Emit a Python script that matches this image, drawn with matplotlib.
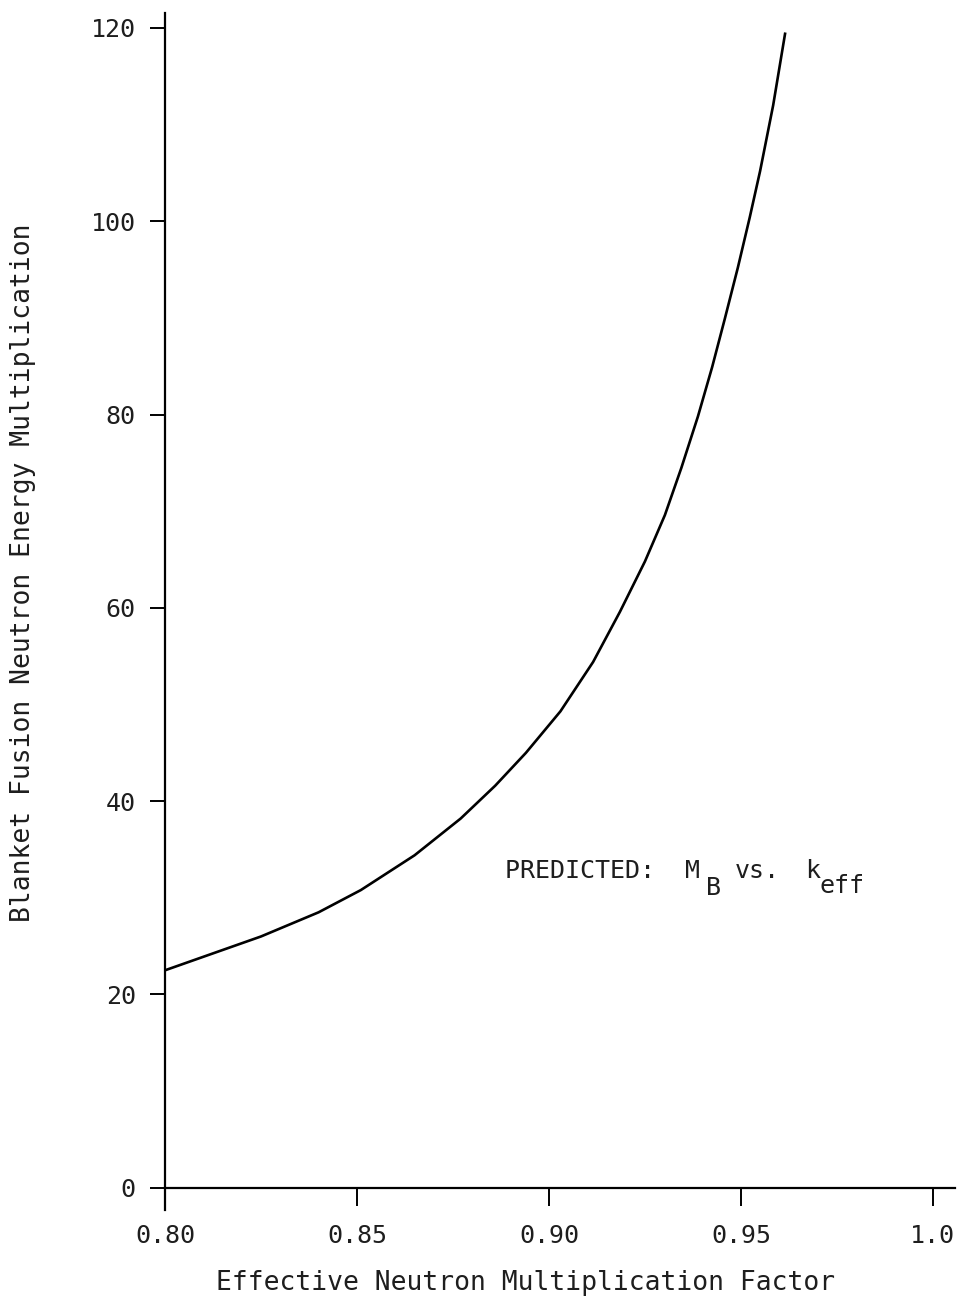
import matplotlib
matplotlib.use("Agg")
import matplotlib.pyplot as plt

# values
k_eff = [0.8000, 0.8100, 0.8250, 0.8400, 0.8510, 0.8650, 0.8770, 0.8860, 0.8940,
         0.9030, 0.9115, 0.9185, 0.9250, 0.9302, 0.9345, 0.9388, 0.9425, 0.9458,
         0.9492, 0.9523, 0.9550, 0.9584, 0.9615]
m_b = [22.5, 23.9, 26.0, 28.5, 30.8, 34.4, 38.2, 41.6, 45.0,
       49.3, 54.4, 59.6, 64.8, 69.6, 74.5, 79.8, 84.9, 89.9,
       95.2, 100.4, 105.2, 112.0, 119.4]

x_ticks = [0.80, 0.85, 0.90, 0.95, 1.0]
x_tick_labels = ["0.80", "0.85", "0.90", "0.95", "1.0"]
y_ticks = [0, 20, 40, 60, 80, 100, 120]

plt.rcParams["font.family"] = ["DejaVu Sans Mono", "DejaVu Sans"]
ink = "#1e1e1e"

fig = plt.figure(figsize=(9.69, 13.04), dpi=100)
ax = fig.add_axes([0.1703, 0.0721, 0.815, 0.9183])

ax.plot(k_eff, m_b, color="black", linewidth=1.9, solid_joinstyle="round")

ax.set_xlim(0.80, 1.0057)
ax.set_ylim(-2.3, 121.6)
ax.spines["top"].set_visible(False)
ax.spines["right"].set_visible(False)
ax.spines["bottom"].set_position(("data", 0))
for s in ("left", "bottom"):
    ax.spines[s].set_linewidth(1.6)

ax.set_xticks(x_ticks)
ax.set_xticklabels(x_tick_labels)
ax.set_yticks(y_ticks)
ax.tick_params(axis="x", direction="out", length=13, width=1.4, pad=13, labelsize=18, labelcolor=ink)
ax.tick_params(axis="y", direction="out", length=11, width=1.4, pad=10, labelsize=18, labelcolor=ink)

ax.set_xlabel("Effective Neutron Multiplication Factor", fontsize=19, color=ink)
ax.set_ylabel("Blanket Fusion Neutron Energy Multiplication", fontsize=19, color=ink)
ax.xaxis.set_label_coords(0.457, -0.050)
ax.yaxis.set_label_coords(-0.163, 0.532)

# annotation: "PREDICTED:  M_B vs. k_eff" with full-size subscripts
anchor = (0.8885, 32.06)
txt = dict(fontsize=18, color=ink, va="baseline", ha="left")
ax.text(anchor[0], anchor[1], "PREDICTED:  M", **txt)
for s, dx, dy in [("B", 201, -17), ("vs.", 230, 0), ("k", 300, 0), ("eff", 315, -15)]:
    ax.annotate(s, xy=anchor, xytext=(dx, dy), textcoords="offset pixels", **txt)

fig.savefig("out.png", dpi=100)
